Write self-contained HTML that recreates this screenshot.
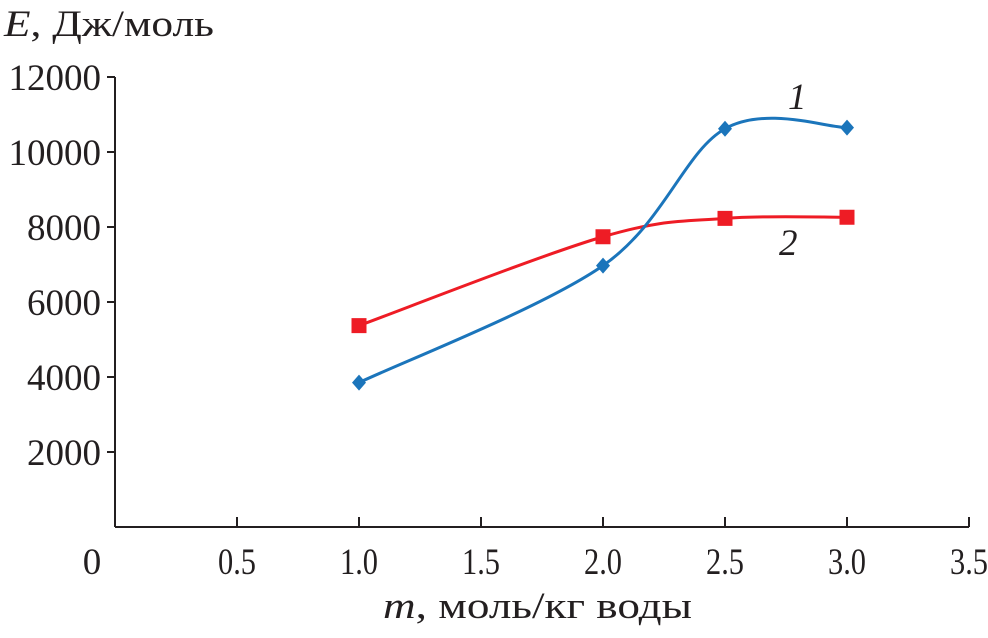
<!DOCTYPE html>
<html><head><meta charset="utf-8"><style>
html,body{margin:0;padding:0;background:#fff;}
svg text{font-family:"Liberation Serif",serif;fill:#231f20;}
</style></head><body>
<svg id="chart" width="988" height="633" viewBox="0 0 988 633">
<g id="axes"></g><g id="series"></g>
<text x="4" y="36" font-size="37" textLength="210" lengthAdjust="spacingAndGlyphs"><tspan font-style="italic">E</tspan>, Дж/моль</text>
<text x="383" y="618" font-size="37" textLength="309" lengthAdjust="spacingAndGlyphs"><tspan font-style="italic">m</tspan>, моль/кг воды</text>
<text x="788" y="109" font-size="37" font-style="italic">1</text>
<text x="779" y="255" font-size="37" font-style="italic">2</text>
</svg>
<script>
const xTicks=[0.5,1.0,1.5,2.0,2.5,3.0,3.5];
const xTickLabels=["0.5","1.0","1.5","2.0","2.5","3.0","3.5"];
const yTicks=[2000,4000,6000,8000,10000,12000];
const yTickLabels=["2000","4000","6000","8000","10000","12000"];
const xs=[1,2,2.5,3];
const series1=[3850,6970,10620,10650];
const series2=[5370,7740,8230,8260];
const NS="http://www.w3.org/2000/svg";
const X=v=>115+v*244;
const Y=v=>527-v*0.0375;
function mk(tag,attrs,parent){const e=document.createElementNS(NS,tag);for(const k in attrs)e.setAttribute(k,attrs[k]);parent.appendChild(e);return e;}
const ax=document.getElementById('axes'),sg=document.getElementById('series');
let a=mk('line',{x1:115,y1:527,x2:969,y2:527,stroke:'#231f20','stroke-width':2},ax);


a=mk('line',{x1:115,y1:527,x2:115,y2:77,stroke:'#231f20','stroke-width':2},ax);


let t=mk('text',{x:92,y:574,'font-size':37,'text-anchor':'middle'},ax);t.textContent='0';


xTicks.forEach((v,i)=>{
 const l=mk('line',{x1:X(v),y1:527,x2:X(v),y2:517,stroke:'#231f20','stroke-width':2},ax);
 
 
 const tx=mk('text',{x:X(v)-19,y:574,'font-size':37,textLength:38,lengthAdjust:'spacingAndGlyphs'},ax);tx.textContent=xTickLabels[i];
 
 
});
yTicks.forEach((v,i)=>{
 const l=mk('line',{x1:107,y1:Y(v),x2:115,y2:Y(v),stroke:'#231f20','stroke-width':2},ax);
 
 
 const tx=mk('text',{x:101,y:Y(v)+13,'font-size':37,'text-anchor':'end'},ax);tx.textContent=yTickLabels[i];
 
 
});
function smooth(pts){
 let d=`M${pts[0][0]},${pts[0][1]}`;const k=1/6;
 for(let i=0;i<pts.length-1;i++){
  const p0=pts[i-1]||pts[i],p1=pts[i],p2=pts[i+1],p3=pts[i+2]||p2;
  const c1=[p1[0]+(p2[0]-p0[0])*k,p1[1]+(p2[1]-p0[1])*k];
  const c2=[p2[0]-(p3[0]-p1[0])*k,p2[1]-(p3[1]-p1[1])*k];
  d+=` C${c1[0]},${c1[1]} ${c2[0]},${c2[1]} ${p2[0]},${p2[1]}`;
 }
 return d;
}
function draw(vals,color,marker,name){
 const pts=xs.map((x,i)=>[X(x),Y(vals[i])]);
 const p=mk('path',{d:smooth(pts),fill:'none',stroke:color,'stroke-width':3},sg);
 
 
 pts.forEach(q=>{
  let m;
  if(marker==='diamond') m=mk('polygon',{points:`${q[0]},${q[1]-8} ${q[0]+7},${q[1]} ${q[0]},${q[1]+8} ${q[0]-7},${q[1]}`,fill:color},sg);
  else m=mk('rect',{x:q[0]-7.5,y:q[1]-7.5,width:15,height:15,fill:color},sg);
  
  
 });
}
draw(series2,'#ee1c25','square','series-2');
draw(series1,'#1b75bb','diamond','series-1');
</script>
</body></html>
